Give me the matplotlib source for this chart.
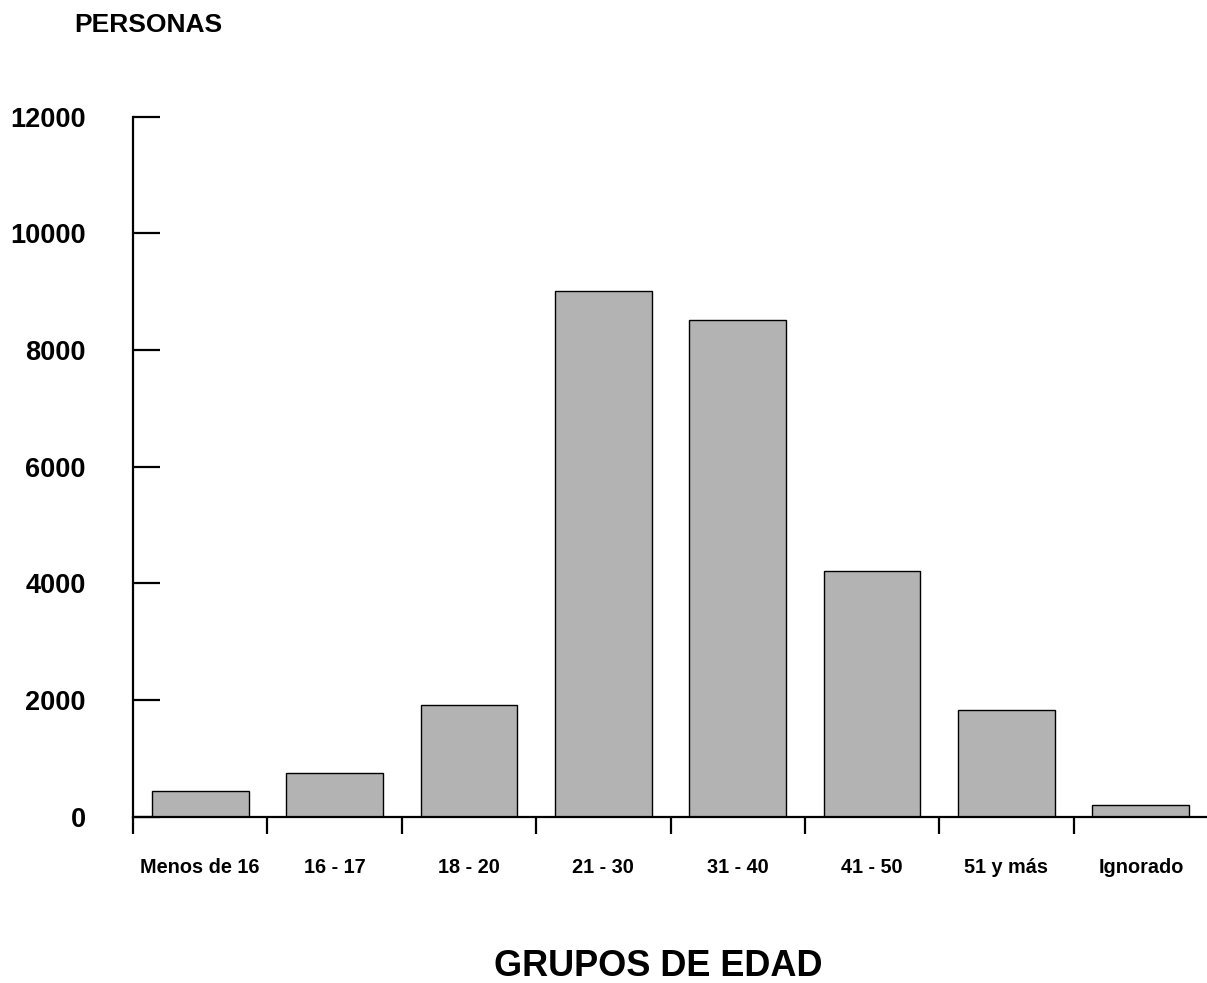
import matplotlib
matplotlib.use("Agg")
import matplotlib.pyplot as plt
import numpy as np

categories = ["Menos de 16", "16 - 17", "18 - 20", "21 - 30", "31 - 40", "41 - 50", "51 y más", "Ignorado"]
values = [440, 749, 1915, 9017, 8515, 4217, 1829, 200]
yticks = [0, 2000, 4000, 6000, 8000, 10000, 12000]

plt.rcParams['font.family'] = ['Liberation Sans', 'DejaVu Sans']

W, H = 1207, 983
fig = plt.figure(figsize=(W / 100, H / 100), dpi=100)
ax = fig.add_axes([133 / W, (H - 816.7) / H, 1075 / W, 700 / H])

x = np.arange(len(categories))
ax.bar(x, values, width=0.72, color="#b3b3b3", edgecolor="black", linewidth=1.0, zorder=2)

ax.set_xlim(-0.5, len(categories) - 0.5)
ax.set_ylim(0, 12000)

for s in ["top", "right"]:
    ax.spines[s].set_visible(False)
for s in ["left", "bottom"]:
    ax.spines[s].set_linewidth(1.6)
    ax.spines[s].set_zorder(3)

ax.set_yticks(yticks)
ax.set_yticklabels([str(v) for v in yticks], fontsize=19.5, fontweight="bold")
ax.tick_params(axis="y", direction="in", length=19.5, width=1.6, pad=34)

ax.set_xticks(np.arange(-0.5, len(categories) - 0.5, 1.0), minor=False)
ax.set_xticklabels([])
ax.tick_params(axis="x", which="major", direction="out", length=12.2, width=1.6)
ax.set_xticks(x, minor=True)
ax.set_xticklabels(categories, minor=True, fontsize=14.3, fontweight="bold")
ax.tick_params(axis="x", which="minor", length=0, pad=30)

fig.text(148.5 / W, 1 - 25 / H, "PERSONAS", fontsize=19, fontweight="bold", ha="center", va="center")
fig.text(658.5 / W, 1 - 967 / H, "GRUPOS DE EDAD", fontsize=26, fontweight="bold", ha="center", va="center")

fig.savefig("out.png", dpi=100)
